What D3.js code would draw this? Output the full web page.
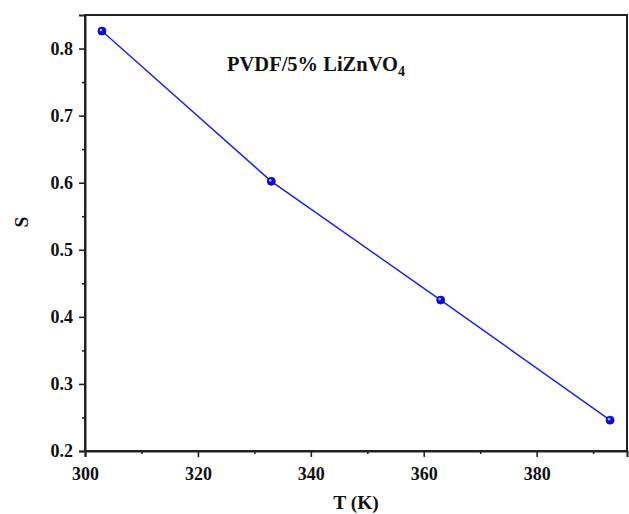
<!DOCTYPE html>
<html>
<head>
<meta charset="utf-8">
<script src="https://cdn.jsdelivr.net/npm/d3@7"></script>
<style>
  html, body { margin: 0; padding: 0; background: #fff; }
  svg { display: block; }
  text { font-family: "Liberation Serif", "Times New Roman", serif; font-weight: bold; fill: #111; }
</style>
</head>
<body>
<svg id="chart" width="629" height="514"></svg>
<script>
// Order parameter S versus temperature
const temperatures = [303, 333, 363, 393];
const sValues = [0.826, 0.602, 0.425, 0.246];
const xTicks = [300, 320, 340, 360, 380];
const yTicks = [0.2, 0.3, 0.4, 0.5, 0.6, 0.7, 0.8];
const xMinor = [310, 330, 350, 370, 390];
const yMinor = [0.25, 0.35, 0.45, 0.55, 0.65, 0.75];

const svg = d3.select("#chart");
const margin = { left: 85, right: 2, top: 15, bottom: 63 };
const W = 629, H = 514;

const x = d3.scaleLinear().domain([300, 396]).range([margin.left, W - margin.right]);
const y = d3.scaleLinear().domain([0.2, 0.85]).range([H - margin.bottom, margin.top]);

// frame
svg.append("rect")
  .attr("x", margin.left).attr("y", margin.top)
  .attr("width", W - margin.right - margin.left)
  .attr("height", H - margin.bottom - margin.top)
  .attr("fill", "none").attr("stroke", "#222").attr("stroke-width", 2);

// bottom axis
const xAxis = svg.append("g").attr("transform", `translate(0,${H - margin.bottom})`)
  .call(d3.axisBottom(x).tickValues(xTicks).tickFormat(d3.format("d")).tickSize(6).tickPadding(5));
svg.append("g").attr("transform", `translate(0,${H - margin.bottom})`)
  .call(d3.axisBottom(x).tickValues(xMinor).tickFormat("").tickSize(3))
  .select(".domain").remove();

// left axis
const yAxis = svg.append("g").attr("transform", `translate(${margin.left},0)`)
  .call(d3.axisLeft(y).tickValues(yTicks).tickFormat(d3.format(".1f")).tickSize(6).tickPadding(6));
svg.append("g").attr("transform", `translate(${margin.left},0)`)
  .call(d3.axisLeft(y).tickValues(yMinor).tickFormat("").tickSize(3))
  .select(".domain").remove();

svg.selectAll(".domain").attr("stroke", "#222").attr("stroke-width", 2);
svg.selectAll(".tick line").attr("stroke", "#222").attr("stroke-width", 1.6);
svg.selectAll(".tick text").attr("font-size", 18)
  .attr("font-family", "Liberation Serif, Times New Roman, serif")
  .attr("font-weight", "bold").attr("fill", "#111");
xAxis.selectAll(".tick text").attr("dy", "1em");

// series line
const line = d3.line().x((d, i) => x(temperatures[i])).y(d => y(d));
svg.append("path").datum(sValues)
  .attr("d", line).attr("fill", "none")
  .attr("stroke", "#1a1aff").attr("stroke-width", 1.4);

// markers
const pts = svg.append("g").selectAll("g").data(sValues).join("g")
  .attr("transform", (d, i) => `translate(${x(temperatures[i])},${y(d)})`);
pts.append("circle").attr("r", 4).attr("fill", "#0a0af0").attr("stroke", "#0000cc").attr("stroke-width", 0.8);
pts.append("circle").attr("r", 1.3).attr("cx", -1).attr("cy", -1).attr("fill", "#aab4ff");

// annotation
const ann = svg.append("text").attr("x", 227).attr("y", 71).attr("font-size", 20.5);
ann.append("tspan").text("PVDF/5% LiZnVO");
ann.append("tspan").attr("font-size", 14).attr("dy", 5).text("4");

// axis titles
svg.append("text").attr("x", 356).attr("y", 509).attr("text-anchor", "middle")
  .attr("font-size", 19.5).text("T (K)");
svg.append("text").attr("transform", "translate(28,222) rotate(-90)")
  .attr("text-anchor", "middle").attr("font-size", 19.5).text("S");
</script>
</body>
</html>
